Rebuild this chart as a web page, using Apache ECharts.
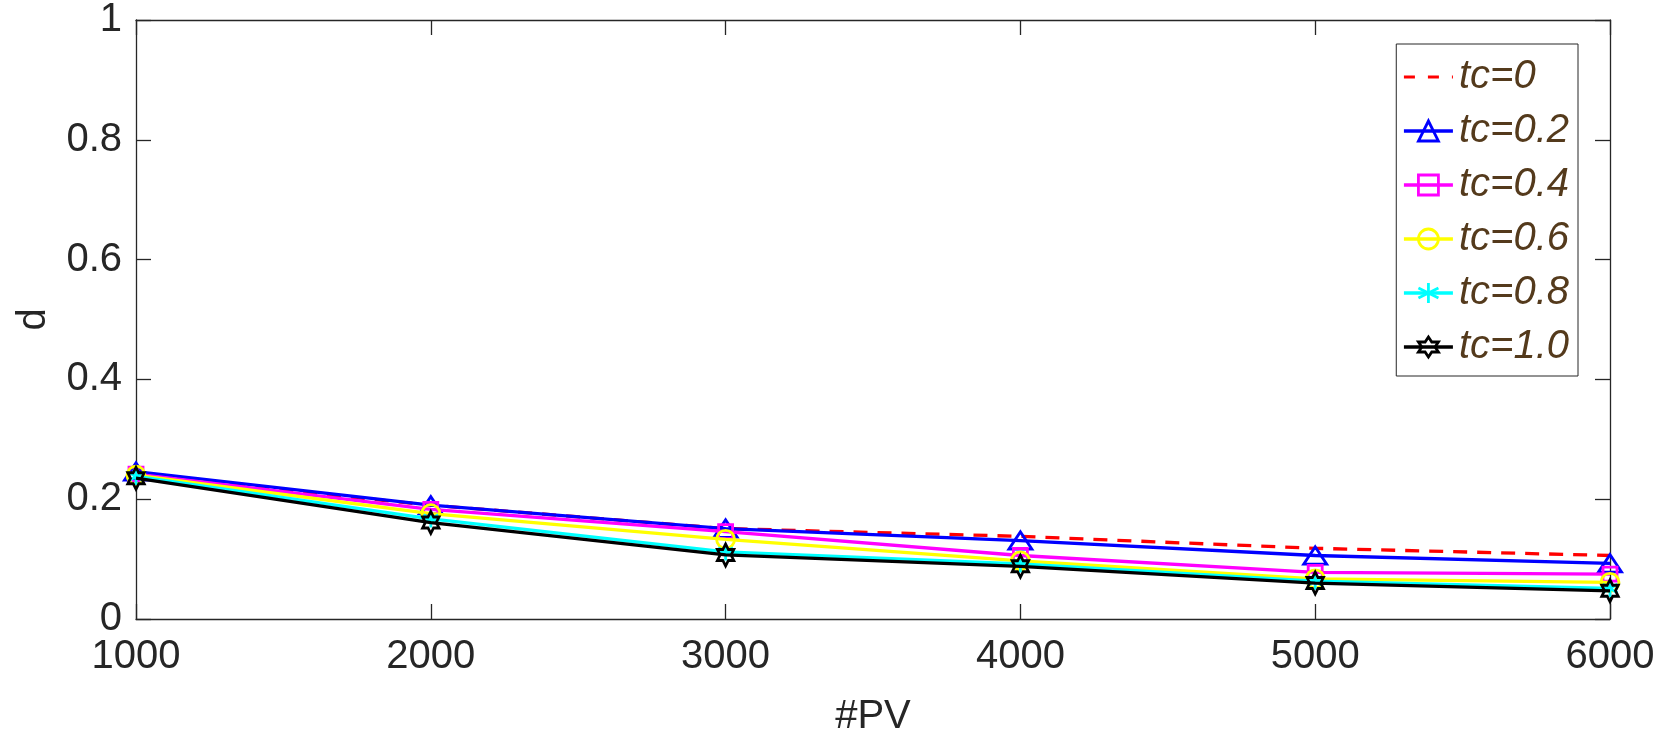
<!DOCTYPE html>
<html>
<head>
<meta charset="utf-8">
<script src="https://cdn.jsdelivr.net/npm/echarts@6/dist/echarts.min.js"></script>
<style>html,body{margin:0;padding:0;background:#fff;}#c{width:1664px;height:742px;}</style>
</head>
<body>
<div id="c"></div>
<script>
const pvValues = [1000, 2000, 3000, 4000, 5000, 6000];
const seriesNames = ['tc=0', 'tc=0.2', 'tc=0.4', 'tc=0.6', 'tc=0.8', 'tc=1.0'];
const tc00 = [0.240, 0.190, 0.151, 0.138, 0.118, 0.106];
const tc02 = [0.246, 0.190, 0.151, 0.131, 0.106, 0.093];
const tc04 = [0.242, 0.183, 0.146, 0.106, 0.078, 0.075];
const tc06 = [0.240, 0.176, 0.133, 0.097, 0.067, 0.061];
const tc08 = [0.238, 0.167, 0.112, 0.092, 0.063, 0.051];
const tc10 = [0.235, 0.161, 0.107, 0.088, 0.060, 0.047];
const yTicks = [0, 0.2, 0.4, 0.6, 0.8, 1];

const allValues = [tc00, tc02, tc04, tc06, tc08, tc10];
const colors = ['#ff0000', '#0000ff', '#ff00ff', '#ffff00', '#00ffff', '#000000'];
const symbols = [
  'none',
  'path://M0,-10L8.66,5L-8.66,5Z',
  'path://M-5,-5L5,-5L5,5L-5,5Z',
  'circle',
  'path://M0,-10L0,10M-8.66,-5L8.66,5M-8.66,5L8.66,-5M0,-10Z',
  'path://M0,-10L2.887,-5L8.66,-5L5.774,0L8.66,5L2.887,5L0,10L-2.887,5L-8.66,5L-5.774,0L-8.66,-5L-2.887,-5Z'
];
const sizes = [0, [23, 20], 14, 18, 17, [19, 22]];

const FONT = 'Liberation Sans';
const AX = '#262626';

const series = allValues.map((vals, i) => ({
  name: seriesNames[i],
  type: 'line',
  data: pvValues.map((x, j) => [x, vals[j]]),
  symbol: symbols[i],
  symbolSize: sizes[i],
  showSymbol: i !== 0,
  symbolKeepAspect: true,
  lineStyle: { color: colors[i], width: 3.3, type: i === 0 ? [14, 10] : 'solid' },
  itemStyle: { color: 'rgba(0,0,0,0)', borderColor: colors[i], borderWidth: 2.8 },
  emphasis: { disabled: true },
  animation: false,
  z: 2 + i
}));

const legendData = seriesNames.map((n, i) => i === 0
  ? { name: n, icon: 'path://M0,0h11v3.2h-11zM24,0h11v3.2h-11zM48,0h1v3.2h-1z',
      itemStyle: { color: colors[0], borderColor: colors[0], borderWidth: 0 } }
  : { name: n });

const chart = echarts.init(document.getElementById('c'));
chart.setOption({
  backgroundColor: '#ffffff',
  animation: false,
  grid: { left: 136, right: 54, top: 18, bottom: 121 },
  legend: {
    orient: 'vertical',
    right: 86,
    top: 44,
    padding: [13, 9, 9, 6],
    itemGap: 14,
    itemWidth: 49,
    itemHeight: 25,
    backgroundColor: '#ffffff',
    borderColor: AX,
    borderWidth: 1,
    borderRadius: 0,
    lineStyle: { width: 3.3 },
    itemStyle: { borderWidth: 2.8 },
    textStyle: { fontFamily: FONT, fontSize: 40, fontStyle: 'italic', color: '#543a1c', padding: [0, 0, 0, 1] },
    data: legendData
  },
  xAxis: [
    {
      type: 'value', min: 1000, max: 6000, interval: 1000,
      name: '#PV', nameLocation: 'middle', nameGap: 78,
      nameTextStyle: { fontFamily: FONT, fontSize: 40, color: AX },
      axisLine: { show: true, onZero: false, lineStyle: { color: AX, width: 1.3 } },
      axisTick: { show: true, inside: true, length: 15, lineStyle: { color: AX, width: 1.3 } },
      axisLabel: { fontFamily: FONT, fontSize: 40, color: AX, margin: 18, formatter: v => String(v) },
      splitLine: { show: false }
    },
    {
      type: 'value', min: 1000, max: 6000, interval: 1000, position: 'top',
      axisLine: { show: true, onZero: false, lineStyle: { color: AX, width: 1.3 } },
      axisTick: { show: true, inside: true, length: 15, lineStyle: { color: AX, width: 1.3 } },
      axisLabel: { show: false },
      splitLine: { show: false }
    }
  ],
  yAxis: [
    {
      type: 'value', min: yTicks[0], max: yTicks[yTicks.length - 1], interval: 0.2,
      name: 'd', nameLocation: 'middle', nameGap: 82, nameRotate: 90,
      nameTextStyle: { fontFamily: FONT, fontSize: 40, color: AX },
      axisLine: { show: true, onZero: false, lineStyle: { color: AX, width: 1.3 } },
      axisTick: { show: true, inside: true, length: 15, lineStyle: { color: AX, width: 1.3 } },
      axisLabel: { fontFamily: FONT, fontSize: 40, color: AX, margin: 14,
        formatter: v => String(Math.round(v * 10) / 10) },
      splitLine: { show: false }
    },
    {
      type: 'value', min: yTicks[0], max: yTicks[yTicks.length - 1], interval: 0.2, position: 'right',
      axisLine: { show: true, onZero: false, lineStyle: { color: AX, width: 1.3 } },
      axisTick: { show: true, inside: true, length: 15, lineStyle: { color: AX, width: 1.3 } },
      axisLabel: { show: false },
      splitLine: { show: false }
    }
  ],
  series: series
});
</script>
</body>
</html>
